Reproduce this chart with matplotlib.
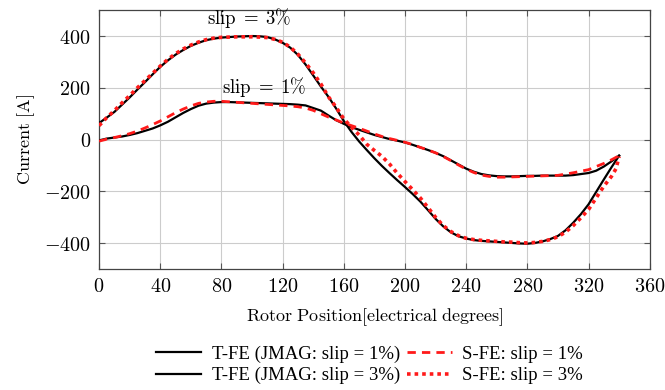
import matplotlib
matplotlib.use("Agg")
import matplotlib.pyplot as plt
from matplotlib.ticker import FuncFormatter, MultipleLocator

plt.rcParams['mathtext.fontset'] = 'cm'
plt.rcParams['font.family'] = ['DejaVu Serif']

# Rotor position (electrical degrees), 5-degree readings
pos = list(range(0, 345, 5))

# T-FE (JMAG), slip = 3%
t_fe_3 = [64, 85, 107, 135, 163, 193, 222, 252, 281, 306, 328, 346, 362, 374, 384, 390, 394, 396,
          398, 399, 400, 399, 396, 387, 374, 355, 327, 290, 248, 205, 165, 120, 72, 30, -7, -40,
          -72, -102, -130, -157, -183, -210, -239, -272, -306, -335, -358, -373, -382, -388, -391,
          -393, -395, -397, -399, -401, -402, -399, -393, -384, -372, -350, -321, -288, -250, -202,
          -154, -107, -62]

# S-FE, slip = 3% (extra reading at 338 deg)
pos_s3 = list(range(0, 340, 5)) + [338, 340]
s_fe_3 = [54, 85, 112, 142, 170, 200, 228, 256, 284, 310, 332, 350, 365, 377, 386, 392, 395, 396,
          397, 397, 397, 396, 394, 387, 376, 357, 330, 296, 258, 215, 165, 125, 80, 48, 18, -18,
          -42, -65, -95, -130, -162, -193, -225, -262, -300, -332, -355, -371, -381, -386, -389,
          -391, -393, -395, -396, -398, -399, -397, -393, -386, -375, -357, -332, -302, -270, -225,
          -180, -142, -112, -65]

# T-FE (JMAG), slip = 1%
t_fe_1 = [-3, 4, 8, 12, 18, 25, 34, 43, 55, 69, 86, 103, 118, 131, 139, 143, 145, 145,
          144, 143, 142, 141, 140, 139, 138, 137, 135, 132, 122, 112, 93, 75, 61, 48, 38, 28,
          18, 10, 2, -4, -11, -20, -30, -40, -51, -64, -80, -96, -112, -124, -133,
          -138, -141, -142, -142, -141, -140, -140, -139, -139, -139, -139, -137, -133, -129, -120,
          -104, -84, -62]

# S-FE, slip = 1%
s_fe_1 = [-6, 2, 8, 15, 23, 33, 45, 58, 72, 88, 104, 118, 130, 140, 145, 148, 148, 146,
          144, 142, 140, 138, 136, 134, 132, 130, 127, 122, 113, 100, 87, 76, 64, 54, 44, 33,
          22, 12, 4, -3, -10, -19, -30, -40, -51, -65, -81, -98, -114, -127, -137,
          -142, -145, -145, -144, -143, -142, -141, -140, -139, -138, -133, -128, -122, -116, -104,
          -92, -78, -62]

labels = ['T-FE (JMAG: slip = 1%)', 'T-FE (JMAG: slip = 3%)', 'S-FE: slip = 1%', 'S-FE: slip = 3%']

fig = plt.figure(figsize=(6.65, 3.90), dpi=100)
ax = fig.add_axes([0.149, 0.310, 0.828, 0.664])

h1, = ax.plot(pos, t_fe_1, color='black', lw=1.6, zorder=3)
h3, = ax.plot(pos, t_fe_3, color='black', lw=1.6, zorder=3)
h2, = ax.plot(pos, s_fe_1, color='#ff1a1a', lw=2.0, dashes=(3.0, 2.2), zorder=4)
h4, = ax.plot(pos_s3, s_fe_3, color='#ff1a1a', lw=2.6, dashes=(1.0, 1.1), zorder=4)

ax.set_xlim(0, 360)
ax.set_ylim(-500, 500)
ax.xaxis.set_major_locator(MultipleLocator(40))
ax.yaxis.set_major_locator(MultipleLocator(200))
fmt = FuncFormatter(lambda v, p: f'${v:g}$')
ax.xaxis.set_major_formatter(fmt)
ax.yaxis.set_major_formatter(fmt)
ax.tick_params(direction='in', top=True, right=True, length=4, width=0.8,
               color='#555555', labelsize=14.5, pad=6)
ax.grid(True, color='#cccccc', lw=0.8, zorder=0)
ax.set_axisbelow(True)
for s in ax.spines.values():
    s.set_color('#444444')
    s.set_linewidth(0.9)

ax.set_xlabel(r'$\mathrm{Rotor\ Position[electrical\ degrees]}$', fontsize=13, labelpad=7)
ax.set_ylabel(r'$\mathrm{Current\ [A]}$', fontsize=13, labelpad=5)

ax.text(98, 468, r'$\mathrm{slip}\;=\;3\%$', fontsize=13.5, ha='center', va='center')
ax.text(108, 204, r'$\mathrm{slip}\;=\;1\%$', fontsize=13.5, ha='center', va='center')

fig.legend([h1, h3, h2, h4], labels, loc='center', bbox_to_anchor=(0.556, 0.064),
           ncol=2, frameon=False, prop={'family': 'Liberation Serif', 'size': 13.5},
           handlelength=2.4, handletextpad=0.55, columnspacing=0.37, labelspacing=0.22,
           borderpad=0)

fig.savefig('out.png', dpi=100)
